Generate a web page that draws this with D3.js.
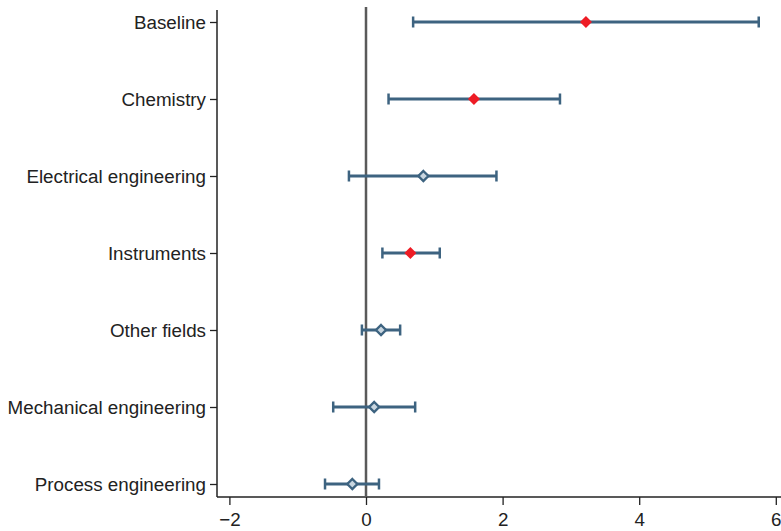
<!DOCTYPE html>
<html>
<head>
<meta charset="utf-8">
<script src="https://cdn.jsdelivr.net/npm/d3@7"></script>
<style>
  body { margin: 0; background: #fff; }
  text { font-family: "Liberation Sans", Arial, sans-serif; }
</style>
</head>
<body>
<script>
var categories = ["Baseline", "Chemistry", "Electrical engineering", "Instruments",
	"Other fields", "Mechanical engineering", "Process engineering"];
var estimates = [3.22, 1.58, 0.84, 0.65, 0.22, 0.12, -0.20];
var lower = [0.69, 0.33, -0.25, 0.24, -0.06, -0.48, -0.60];
var upper = [5.75, 2.84, 1.91, 1.08, 0.50, 0.72, 0.19];
var significant = [true, true, false, true, false, false, false];
var xTicks = [-2, 0, 2, 4, 6];

var width = 781;
var height = 531;

var rows = categories.map(function (c, i) {
	return { name: c, est: estimates[i], lo: lower[i], hi: upper[i], sig: significant[i] };
});

var svg = d3.select("body").append("svg")
	.attr("width", width)
	.attr("height", height);

var x = d3.scaleLinear().domain([-2, 6]).range([229.4, 775.8]);
var y = d3.scalePoint().domain(categories).range([22, 484]);

var blue = "#3d6380";

// y axis
var yAxis = svg.append("g")
	.attr("transform", "translate(217,0)")
	.call(d3.axisLeft(y).tickSize(7).tickPadding(4).tickSizeOuter(0));
yAxis.select(".domain").attr("d", "M0,10V497").attr("stroke", "#222").attr("stroke-width", 1.5);
yAxis.selectAll(".tick line").attr("stroke", "#222").attr("stroke-width", 1.3);
yAxis.selectAll(".tick text").attr("font-size", 18.8).attr("fill", "#222");

// x axis
var xAxis = svg.append("g")
	.attr("transform", "translate(0,497)")
	.call(d3.axisBottom(x).tickValues(xTicks).tickSize(8).tickPadding(8)
		.tickFormat(function (d) { return d < 0 ? "\u2212" + Math.abs(d) : d; }));
xAxis.select(".domain").attr("d", "M217,0H781").attr("stroke", "#222").attr("stroke-width", 1.5);
xAxis.selectAll(".tick line").attr("stroke", "#222").attr("stroke-width", 1.3);
xAxis.selectAll(".tick text").attr("font-size", 18.8).attr("fill", "#222");

// zero reference line
svg.append("line")
	.attr("x1", x(0)).attr("x2", x(0))
	.attr("y1", 7).attr("y2", 497)
	.attr("stroke", "#5a5a5a")
	.attr("stroke-width", 2.5);

// confidence intervals
var g = svg.append("g");
var ci = g.selectAll("g.ci")
	.data(rows)
	.enter()
	.append("g")
	.attr("class", "ci");

ci.append("line")
	.attr("x1", function (d) { return x(d.lo); })
	.attr("x2", function (d) { return x(d.hi); })
	.attr("y1", function (d) { return y(d.name); })
	.attr("y2", function (d) { return y(d.name); })
	.attr("stroke", blue)
	.attr("stroke-width", 2.8);

ci.selectAll("line.cap")
	.data(function (d) { return [{ v: d.lo, n: d.name }, { v: d.hi, n: d.name }]; })
	.enter()
	.append("line")
	.attr("class", "cap")
	.attr("x1", function (d) { return x(d.v); })
	.attr("x2", function (d) { return x(d.v); })
	.attr("y1", function (d) { return y(d.n) - 5.5; })
	.attr("y2", function (d) { return y(d.n) + 5.5; })
	.attr("stroke", blue)
	.attr("stroke-width", 2.5);

// point estimates
ci.append("path")
	.attr("transform", function (d) { return "translate(" + x(d.est) + "," + y(d.name) + ")"; })
	.attr("d", function (d) {
		var r = d.sig ? 6 : 5;
		return "M0," + (-r) + "L" + r + ",0L0," + r + "L" + (-r) + ",0Z";
	})
	.attr("fill", function (d) { return d.sig ? "#ee1c25" : "#c9d6e0"; })
	.attr("stroke", function (d) { return d.sig ? "none" : blue; })
	.attr("stroke-width", 2.4);
</script>
</body>
</html>
